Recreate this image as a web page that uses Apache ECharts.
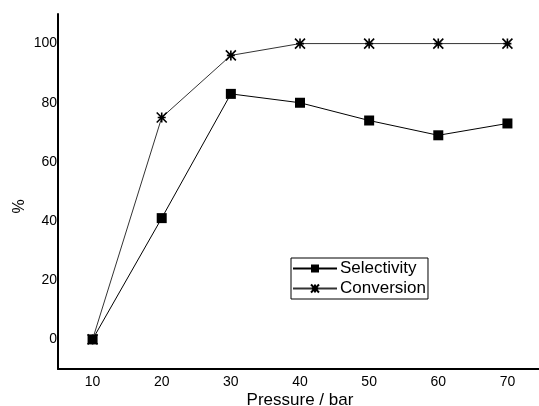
<!DOCTYPE html>
<html><head><meta charset="utf-8">
<script src="https://cdn.jsdelivr.net/npm/echarts@6/dist/echarts.min.js"></script>
<style>html,body{margin:0;padding:0;background:#fff}#c{width:539px;height:406px}</style>
</head><body><div id="c"></div>
<script>
var pressure = [10, 20, 30, 40, 50, 60, 70];
var selectivity = [0, 41, 83, 80, 74, 69, 73];
var conversion = [0, 75, 96, 100, 100, 100, 100];
var yTicks = [0, 20, 40, 60, 80, 100];

var starPath = 'path://M0,0L10,10M10,0L0,10M5,0L5,10M1,5L9,5';
var chart = echarts.init(document.getElementById('c'));
var font = 'Liberation Sans, Arial, sans-serif';
chart.setOption({
  animation: false,
  grid: {left: 58, top: 14, width: 484, height: 355, containLabel: false, outerBoundsMode: 'none'},
  xAxis: {
    type: 'value', min: 5, max: 75, interval: 5,
    axisLine: {show: true, onZero: false, lineStyle: {color: '#000', width: 2}},
    axisTick: {show: false}, splitLine: {show: false},
    axisLabel: {color: '#000', fontSize: 14, fontFamily: font, margin: 6,
      formatter: function (v) { return pressure.indexOf(v) >= 0 ? String(v) : ''; }},
    name: 'Pressure / bar', nameLocation: 'middle', nameGap: 23, nameMoveOverlap: false,
    nameTextStyle: {color: '#000', fontSize: 17, fontFamily: font}
  },
  yAxis: {
    type: 'value', min: -10, max: 110, interval: 10,
    axisLine: {show: true, onZero: false, lineStyle: {color: '#000', width: 2}},
    axisTick: {show: false}, splitLine: {show: false},
    axisLabel: {color: '#000', fontSize: 14, fontFamily: font, margin: 1,
      formatter: function (v) { return yTicks.indexOf(v) >= 0 ? String(v) : ''; }},
    name: '%', nameLocation: 'middle', nameGap: 30, nameMoveOverlap: false,
    nameTextStyle: {color: '#000', fontSize: 16, fontFamily: font, padding: [0, 30, 0, 0]}
  },
  legend: {
    left: 291, top: 258, orient: 'vertical', itemGap: 3,
    borderColor: '#000', borderWidth: 1, padding: [2, 2, 2, 1],
    itemWidth: 44, itemHeight: 10,
    textStyle: {color: '#000', fontSize: 17, fontFamily: font, padding: [0, 0, 0, -2]},
    data: ['Selectivity', 'Conversion']
  },
  series: [
    {
      name: 'Selectivity', type: 'line',
      data: pressure.map(function (p, i) { return [p, selectivity[i]]; }),
      symbol: 'rect', symbolSize: 10,
      lineStyle: {color: '#000', width: 1},
      itemStyle: {color: '#000'}
    },
    {
      name: 'Conversion', type: 'line',
      data: pressure.map(function (p, i) { return [p, conversion[i]]; }),
      symbol: starPath, symbolSize: 10,
      lineStyle: {color: '#333', width: 1},
      itemStyle: {color: '#000', borderColor: '#000', borderWidth: 1.6}
    }
  ]
});
</script></body></html>
